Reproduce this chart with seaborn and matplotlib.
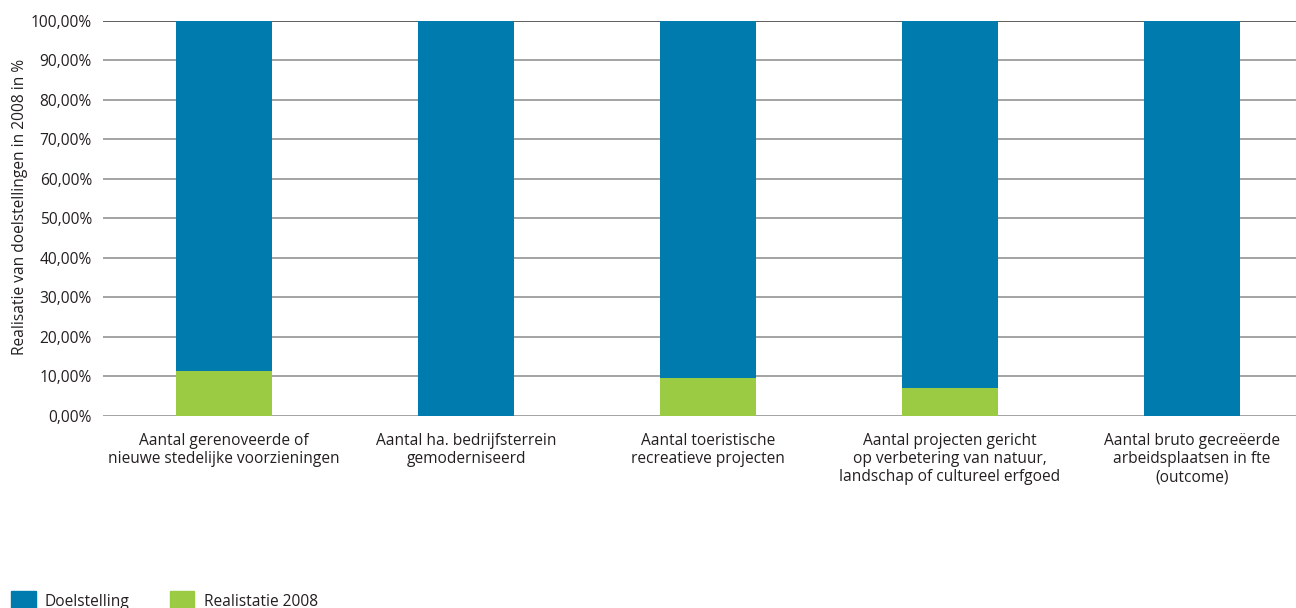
import matplotlib
matplotlib.use('Agg')
import matplotlib.pyplot as plt
import seaborn as sns
import pandas as pd
from matplotlib.patches import Patch
from matplotlib.ticker import FuncFormatter

# ── Data ──────────────────────────────────────────────────────────────────
categories = [
    'Aantal gerenoveerde of\nnieuwe stedelijke voorzieningen',
    'Aantal ha. bedrijfsterrein\ngemoderniseerd',
    'Aantal toeristische\nrecreatieve projecten',
    'Aantal projecten gericht\nop verbetering van natuur,\nlandschap of cultureel erfgoed',
    'Aantal bruto gecreëerde\narbeidsplaatsen in fte\n(outcome)',
]
doelstelling = [100, 100, 100, 100, 100]
realisatie_2008 = [11.4, 0, 9.7, 7.1, 0]
y_ticks = [0, 10, 20, 30, 40, 50, 60, 70, 80, 90, 100]

BLUE, GREEN = '#007BAD', '#9BCB43'
FS = 11.2

df = pd.DataFrame({'cat': categories, 'doel': doelstelling,
                   'real': realisatie_2008})

sns.set_style('white')
plt.rcParams['font.family'] = ['Open Sans', 'DejaVu Sans']

fig = plt.figure(figsize=(12.96, 6.08), dpi=100)
ax = fig.add_axes([0.0795, 0.316, 0.9205, 0.6495])

for y in y_ticks:
    ax.axhline(y, color='#333333' if y == 100 else '#8a8a8a', lw=1.1, zorder=0)

sns.barplot(data=df, x='cat', y='doel', color=BLUE, width=0.4,
            saturation=1, linewidth=0, ax=ax, zorder=2)
sns.barplot(data=df, x='cat', y='real', color=GREEN, width=0.4,
            saturation=1, linewidth=0, ax=ax, zorder=3)

ax.set_xlim(-0.5, 4.43)
ax.set_ylim(0, 100)
ax.set_yticks(y_ticks)
ax.yaxis.set_major_formatter(FuncFormatter(lambda v, _: f'{v:.2f}%'.replace('.', ',')))
ax.tick_params(axis='both', length=0, labelsize=FS, colors='#231f20')
ax.tick_params(axis='x', pad=12)
ax.tick_params(axis='y', pad=8)
ax.set_xlabel('')
ax.set_ylabel('Realisatie van doelstellingen in 2008 in %', fontsize=FS,
              color='#231f20')
ax.yaxis.set_label_coords(-0.0626, 0.53)
for s in ax.spines.values():
    s.set_visible(False)

handles = [Patch(color=BLUE, label='Doelstelling'),
           Patch(color=GREEN, label='Realistatie 2008')]
fig.legend(handles=handles, loc='lower left', bbox_to_anchor=(0.004, -0.014),
           ncol=2, frameon=False, fontsize=FS, handlelength=1.55,
           handleheight=1.55, handletextpad=0.6, columnspacing=2.6,
           borderaxespad=0, labelcolor='#231f20')

fig.savefig('out.png', dpi=100, facecolor='white')
plt.close(fig)
